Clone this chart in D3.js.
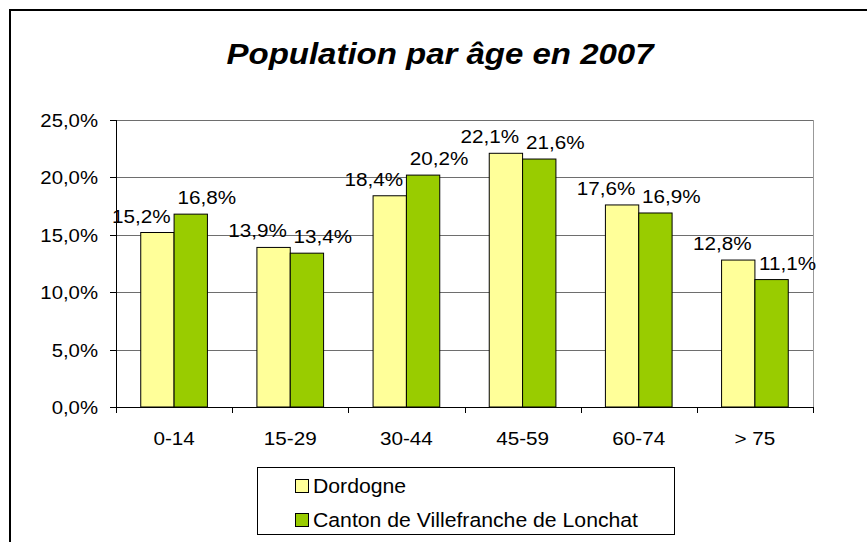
<!DOCTYPE html>
<html>
<head>
<meta charset="utf-8">
<script src="https://cdn.jsdelivr.net/npm/d3@7"></script>
<style>
  body { margin: 0; background: #fff; }
  text { font-family: "Liberation Sans", Arial, sans-serif; fill: #000; }
</style>
</head>
<body>
<div id="chart"></div>
<script>
var width = 867;
var height = 542;

// data
var categories = ["0-14", "15-29", "30-44", "45-59", "60-74", "> 75"];
var seriesNames = ["Dordogne", "Canton de Villefranche de Lonchat"];
var dordogne = [15.2, 13.9, 18.4, 22.1, 17.6, 12.8];
var canton = [16.8, 13.4, 20.2, 21.6, 16.9, 11.1];
var yTicks = [0, 5, 10, 15, 20, 25];
var colors = ["#FFFF99", "#99CC00"];

var stretch = 1.1; // text in the original is slightly wider than Arial

var svg = d3.select("#chart").append("svg")
    .attr("width", width)
    .attr("height", height);

// outer frame (runs off the right and bottom)
svg.append("rect")
    .attr("x", 10).attr("y", 10)
    .attr("width", 900).attr("height", 600)
    .attr("fill", "none")
    .attr("stroke", "#000")
    .attr("stroke-width", 2);

var plot = { left: 116, right: 813, top: 120, bottom: 407 };

var x = d3.scaleBand().domain(categories).range([plot.left, plot.right]);
var barW = x.bandwidth() * 0.287;
var xs = d3.scaleBand().domain(seriesNames).range([0, 2 * barW]);
var y = d3.scaleLinear().domain([0, 25]).range([plot.bottom, plot.top]);

function fmt(v) {
    return v.toFixed(1).replace(".", ",") + "%";
}

// helper: horizontally stretched text
function label(g, tx, ty, str, size, anchor) {
    return g.append("text")
        .attr("transform", "translate(" + tx + "," + ty + ") scale(" + stretch + ",1)")
        .attr("text-anchor", anchor || "middle")
        .style("font-size", size + "px")
        .text(str);
}

// title
label(svg, 440, 64, "Population par âge en 2007", 30, "middle")
    .style("font-weight", "bold")
    .style("font-style", "italic");

// gridlines
svg.append("g").selectAll("line")
    .data(yTicks.filter(function (d) { return d > 0; }))
    .join("line")
    .attr("x1", plot.left).attr("x2", plot.right)
    .attr("y1", function (d) { return Math.round(y(d)) + 0.5; })
    .attr("y2", function (d) { return Math.round(y(d)) + 0.5; })
    .attr("stroke", "#6e6e6e");

// right border of plot
svg.append("line")
    .attr("x1", plot.right + 0.5).attr("x2", plot.right + 0.5)
    .attr("y1", plot.top).attr("y2", plot.bottom)
    .attr("stroke", "#999");

// bars
var data = categories.map(function (c, i) {
    return { cat: c, values: [dordogne[i], canton[i]] };
});

var groups = svg.append("g").selectAll("g")
    .data(data)
    .join("g")
    .attr("transform", function (d) {
        return "translate(" + (x(d.cat) + (x.bandwidth() - 2 * barW) / 2) + ",0)";
    });

groups.selectAll("rect")
    .data(function (d) {
        return d.values.map(function (v, j) { return { name: seriesNames[j], v: v, j: j }; });
    })
    .join("rect")
    .attr("x", function (d) { return xs(d.name); })
    .attr("y", function (d) { return y(d.v); })
    .attr("width", xs.bandwidth())
    .attr("height", function (d) { return y(0) - y(d.v); })
    .attr("fill", function (d) { return colors[d.j]; })
    .attr("stroke", "#000")
    .attr("stroke-width", 1);

// data labels
groups.each(function (d) {
    var g = d3.select(this);
    d.values.forEach(function (v, j) {
        var cx = xs(seriesNames[j]) + xs.bandwidth() / 2 + (j === 0 ? -16 : 16);
        label(g, cx, y(v) - 10, fmt(v), 18.8, "middle");
    });
});

// y axis
svg.append("line")
    .attr("x1", plot.left + 0.5).attr("x2", plot.left + 0.5)
    .attr("y1", plot.top).attr("y2", plot.bottom)
    .attr("stroke", "#000");

var yAxis = svg.append("g");
yTicks.forEach(function (t) {
    var ty = Math.round(y(t)) + 0.5;
    yAxis.append("line")
        .attr("x1", plot.left - 6).attr("x2", plot.left)
        .attr("y1", ty).attr("y2", ty)
        .attr("stroke", "#000");
    label(yAxis, 98, ty + 6.5, fmt(t), 18.5, "end");
});

// x axis
svg.append("line")
    .attr("x1", plot.left).attr("x2", plot.right + 1)
    .attr("y1", plot.bottom + 0.5).attr("y2", plot.bottom + 0.5)
    .attr("stroke", "#000");

var xAxis = svg.append("g");
categories.concat([null]).forEach(function (c, i) {
    var tx = Math.round(c ? x(c) : plot.right) + 0.5;
    xAxis.append("line")
        .attr("x1", tx).attr("x2", tx)
        .attr("y1", plot.bottom).attr("y2", plot.bottom + 6)
        .attr("stroke", "#000");
});
categories.forEach(function (c) {
    label(xAxis, x(c) + x.bandwidth() / 2, 445, c, 18.8, "middle");
});

// legend
var legend = svg.append("g");
legend.append("rect")
    .attr("x", 257.5).attr("y", 467.5)
    .attr("width", 417).attr("height", 67)
    .attr("fill", "#fff")
    .attr("stroke", "#000");

seriesNames.forEach(function (name, i) {
    var ly = 486 + i * 34;
    legend.append("rect")
        .attr("x", 295.5).attr("y", ly - 6.5)
        .attr("width", 13).attr("height", 13)
        .attr("fill", colors[i])
        .attr("stroke", "#000");
    label(legend, 313, ly + 7, name, 19.3, "start");
});
</script>
</body>
</html>
